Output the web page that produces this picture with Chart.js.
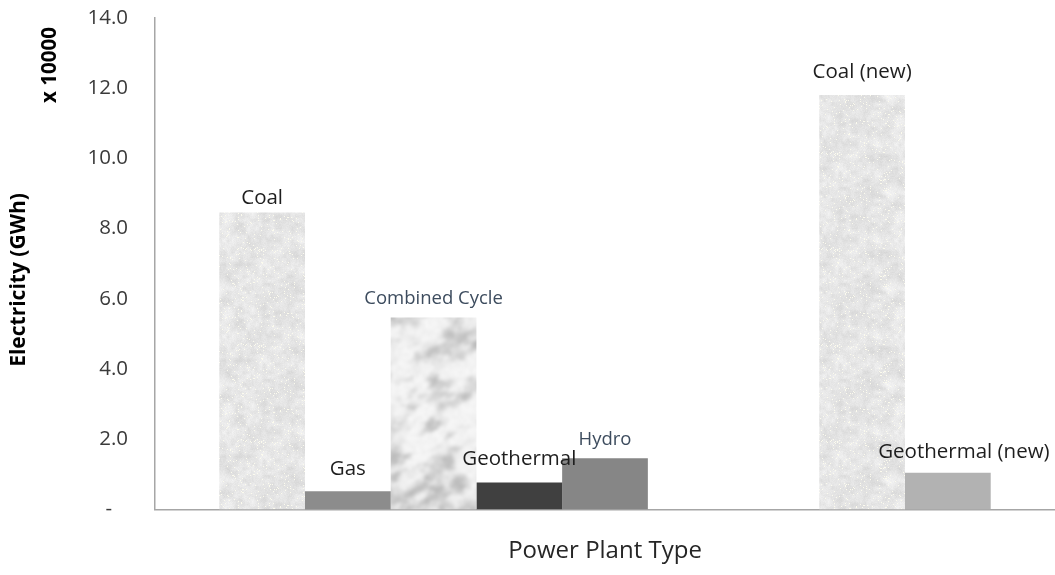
<!DOCTYPE html>
<html>
<head>
<meta charset="utf-8">
<title>Electricity by Power Plant Type</title>
<script src="https://cdn.jsdelivr.net/npm/chart.js@4.4.1/dist/chart.umd.min.js"></script>
<style>
  html, body { margin: 0; padding: 0; background: #fff; }
  #chart { display: block; }
</style>
</head>
<body>
<canvas id="chart" width="1055" height="575"></canvas>
<script>
// Electricity per power plant type, in units of 10000 GWh.
// The two empty slots keep the spacing between existing and new plants.
const plantTypes = ['Coal', 'Gas', 'Combined Cycle', 'Geothermal', 'Hydro', '', '', 'Coal (new)', 'Geothermal (new)'];
const electricity = [8.46, 0.52, 5.47, 0.77, 1.46, null, null, 11.81, 1.05];
const yTicks = [0, 2, 4, 6, 8, 10, 12, 14];
const yUnitNote = 'x 10000';
const yTitle = 'Electricity (GWh)';
const xTitle = 'Power Plant Type';

// per-bar fill and label styling
const fills = ['coal', '#8c8c8c', 'marble', '#404040', '#868686', null, null, 'coal', '#b2b2b2'];
const labelColors = ['#1e1e1e', '#1e1e1e', '#3d4c5e', '#1e1e1e', '#3d4c5e', null, null, '#1e1e1e', '#1e1e1e'];
const labelSizes = [20.5, 20.5, 18.5, 20.5, 18.5, 0, 0, 20.5, 20.5];
const labelLift = [8, 16, 13, 17, 13, 0, 0, 17, 15];
const labelShift = [0, 0, 0, 0, 0, 0, 0, 0, 16];

// small seeded generator so the textures come out the same every time
function mulberry32(a) {
  return function () {
    a |= 0; a = a + 0x6D2B79F5 | 0;
    let t = Math.imul(a ^ a >>> 15, 1 | a);
    t = t + Math.imul(t ^ t >>> 7, 61 | t) ^ t;
    return ((t ^ t >>> 14) >>> 0) / 4294967296;
  };
}

function valueNoise(rand, cells) {
  const g = [];
  for (let i = 0; i < cells * cells; i++) g.push(rand());
  const at = (i, j) => g[((j % cells + cells) % cells) * cells + ((i % cells + cells) % cells)];
  return function (x, y) {
    const xi = Math.floor(x), yi = Math.floor(y);
    const fx = x - xi, fy = y - yi;
    const sx = fx * fx * (3 - 2 * fx), sy = fy * fy * (3 - 2 * fy);
    const a = at(xi, yi), b = at(xi + 1, yi), c = at(xi, yi + 1), d = at(xi + 1, yi + 1);
    return a + (b - a) * sx + (c - a) * sy + (a - b - c + d) * sx * sy;
  };
}

function blurred(src, radius) {
  const out = document.createElement('canvas');
  out.width = src.width; out.height = src.height;
  const o = out.getContext('2d');
  o.filter = 'blur(' + radius + 'px)';
  // draw tiled copies around so the edges stay seamless
  for (let dx = -1; dx <= 1; dx++) {
    for (let dy = -1; dy <= 1; dy++) o.drawImage(src, dx * src.width, dy * src.height);
  }
  return out;
}

// speckled light grey "newsprint" style fill
function coalTexture() {
  const size = 96;
  const cv = document.createElement('canvas');
  cv.width = size; cv.height = size;
  const c = cv.getContext('2d');
  const img = c.createImageData(size, size);
  const rand = mulberry32(7);
  const n1 = valueNoise(rand, 8), n2 = valueNoise(rand, 24);
  for (let y = 0; y < size; y++) {
    for (let x = 0; x < size; x++) {
      let v = 229 + 16 * (n1(x / 12, y / 12) - 0.5) + 14 * (n2(x / 4, y / 4) - 0.5) + 8 * (rand() - 0.5);
      let r = v, g = v, b = v;
      if (rand() < 0.035) { r = 252; g = 251; b = 238; }
      const k = (y * size + x) * 4;
      img.data[k] = r; img.data[k + 1] = g; img.data[k + 2] = b; img.data[k + 3] = 255;
    }
  }
  c.putImageData(img, 0, 0);
  return blurred(cv, 0.6);
}

// cloudy grey marble with soft streaks; tall enough to cover a bar in one tile
function marbleTexture() {
  const w = 128, h = 600;
  const cv = document.createElement('canvas');
  cv.width = w; cv.height = h;
  const c = cv.getContext('2d');
  const img = c.createImageData(w, h);
  const rand = mulberry32(31);
  const n1 = valueNoise(rand, 64), n2 = valueNoise(rand, 128), n3 = valueNoise(rand, 256);
  const ang = -0.45;
  const ca = Math.cos(ang), sa = Math.sin(ang);
  for (let y = 0; y < h; y++) {
    for (let x = 0; x < w; x++) {
      // stretch the noise a little along the streak direction
      const u = x * ca + y * sa, v = -x * sa + y * ca;
      const f = n1(u / 24, v / 13) * 0.5 + n2(u / 11, v / 7) * 0.32 + n3(u / 5, v / 4) * 0.18;
      const s = Math.min(1, Math.max(0, (f - 0.38) / 0.46));
      const dark = s * s * (3 - 2 * s);
      let g = 243 - 54 * dark + 10 * (n3(x / 3, y / 3) - 0.5);
      g = Math.max(175, Math.min(249, g));
      const k = (y * w + x) * 4;
      img.data[k] = g; img.data[k + 1] = g; img.data[k + 2] = g; img.data[k + 3] = 255;
    }
  }
  c.putImageData(img, 0, 0);
  return blurred(cv, 1.5);
}

const ctx = document.getElementById('chart').getContext('2d');
const coalPattern = ctx.createPattern(coalTexture(), 'repeat');
const marblePattern = ctx.createPattern(marbleTexture(), 'repeat');

function fillFor(i) {
  if (fills[i] === 'coal') return coalPattern;
  if (fills[i] === 'marble') return marblePattern;
  return fills[i];
}

// one category; each plant type is its own series, Excel-style gap of 150%
const datasets = plantTypes.map((name, i) => ({
  label: name,
  data: [electricity[i]],
  backgroundColor: fillFor(i),
  borderWidth: 0,
  categoryPercentage: 9 / 10.5,
  barPercentage: 1
}));

function rotatedText(c, text, x, y) {
  c.save();
  c.translate(x, y);
  c.rotate(-Math.PI / 2);
  c.fillText(text, 0, 0);
  c.restore();
}

// names written above each bar
const barLabels = {
  id: 'barLabels',
  afterDatasetsDraw(chart) {
    const c = chart.ctx;
    c.save();
    c.textAlign = 'center';
    c.textBaseline = 'alphabetic';
    chart.data.datasets.forEach((ds, i) => {
      if (electricity[i] == null) return;
      const bar = chart.getDatasetMeta(i).data[0];
      c.font = labelSizes[i] + 'px "Open Sans"';
      c.fillStyle = labelColors[i];
      c.fillText(plantTypes[i], bar.x + labelShift[i], bar.y - labelLift[i]);
    });
    c.restore();
  }
};

// axis titles and the unit note
const axisText = {
  id: 'axisText',
  afterDraw(chart) {
    const c = chart.ctx;
    const area = chart.chartArea;
    c.save();
    c.textAlign = 'center';
    c.textBaseline = 'middle';
    c.fillStyle = '#000';
    c.font = 'bold 20.5px "Open Sans"';
    rotatedText(c, yUnitNote, 50, 65);
    c.font = 'bold 21px "Open Sans"';
    rotatedText(c, yTitle, 19, 280);
    c.font = '24px "Open Sans"';
    c.fillStyle = '#262626';
    c.textBaseline = 'alphabetic';
    c.fillText(xTitle, (area.left + area.right) / 2, 558);
    c.restore();
  }
};

new Chart(ctx, {
  type: 'bar',
  data: { labels: [''], datasets: datasets },
  options: {
    responsive: false,
    animation: false,
    devicePixelRatio: 1,
    layout: { padding: 0 },
    plugins: {
      legend: { display: false },
      tooltip: { enabled: false }
    },
    scales: {
      x: {
        grid: { display: false, drawTicks: false },
        border: { display: true, color: '#a6a6a6', width: 1.5 },
        ticks: { display: false },
        afterFit(scale) { scale.height = 65.5; }
      },
      y: {
        min: 0,
        max: 14,
        afterBuildTicks(scale) { scale.ticks = yTicks.map(v => ({ value: v })); },
        grid: { display: false, drawTicks: false },
        border: { display: true, color: '#a6a6a6', width: 1.5 },
        ticks: {
          padding: 27,
          color: '#3a3a3a',
          font: { family: 'Open Sans', size: 20.5 },
          callback: v => v === 0 ? '-   ' : v.toFixed(1)
        },
        afterFit(scale) {
          scale.width = 155;
          // plot starts 18px from the top; the tick padding shouldn't push it down
          scale.paddingTop = 18;
          scale.paddingBottom = 0;
        }
      }
    }
  },
  plugins: [barLabels, axisText]
});
</script>
</body>
</html>
